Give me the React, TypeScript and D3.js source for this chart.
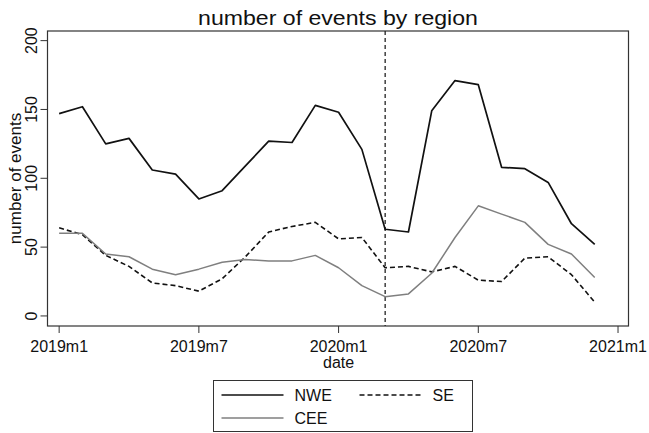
import { useEffect, useRef } from "react";
import * as d3 from "d3";

// monthly counts, 2019m1 .. 2020m12
const nwe = [147, 152, 125, 129, 106, 103, 85, 91, 109, 127, 126, 153, 148, 121, 63, 61, 149, 171, 168, 108, 107, 97, 67, 52];
const se = [64, 59, 44, 36, 24, 22, 18, 27, 43, 61, 65, 68, 56, 57, 35, 36, 32, 36, 26, 25, 42, 43, 30, 10];
const cee = [60, 60, 45, 43, 34, 30, 34, 39, 41, 40, 40, 44, 35, 22, 14, 16, 31, 57, 80, 74, 68, 52, 45, 28];

const xTickMonths = [0, 6, 12, 18, 24];
const xTickLabels = ["2019m1", "2019m7", "2020m1", "2020m7", "2021m1"];
const yTicks = [0, 50, 100, 150, 200];
const eventMonth = 14; // 2020m3

const WIDTH = 649;
const HEIGHT = 433;
const PLOT = { left: 47.5, right: 628.5, top: 31, bottom: 326 };
const FONT = "'Liberation Sans', Arial, Helvetica, sans-serif";
const AXIS = "#333";

document.body.style.margin = "0";

export default function App() {
  const svgRef = useRef<SVGSVGElement>(null);

  useEffect(() => {
    if (!svgRef.current) return;
    const svg = d3.select(svgRef.current);
    svg.selectAll("*").remove();

    const x = d3.scaleLinear().domain([-0.5, 24.45]).range([PLOT.left, PLOT.right]);
    const y = d3.scaleLinear().domain([-7.3, 207]).range([PLOT.bottom, PLOT.top]);

    svg.append("rect").attr("width", WIDTH).attr("height", HEIGHT).attr("fill", "#fff");

    // title
    svg
      .append("text")
      .attr("transform", `translate(${(PLOT.left + PLOT.right) / 2},25) scale(1.1,1)`)
      .attr("text-anchor", "middle")
      .attr("font-family", FONT)
      .attr("font-size", 21)
      .attr("fill", "#111")
      .text("number of events by region");

    // y axis
    const yAxis = svg.append("g");
    yAxis
      .selectAll("line")
      .data(yTicks)
      .join("line")
      .attr("x1", PLOT.left - 7)
      .attr("x2", PLOT.left)
      .attr("y1", (d) => y(d))
      .attr("y2", (d) => y(d))
      .attr("stroke", AXIS)
      .attr("stroke-width", 1);
    yAxis
      .selectAll("text")
      .data(yTicks)
      .join("text")
      .attr("transform", (d) => `translate(${PLOT.left - 11},${y(d)}) rotate(-90)`)
      .attr("text-anchor", "middle")
      .attr("font-family", FONT)
      .attr("font-size", 16)
      .attr("fill", "#111")
      .text((d) => d);
    svg
      .append("text")
      .attr("transform", `translate(21,${(PLOT.top + PLOT.bottom) / 2}) rotate(-90)`)
      .attr("text-anchor", "middle")
      .attr("font-family", FONT)
      .attr("font-size", 17)
      .attr("fill", "#111")
      .text("number of events");

    // x axis
    const xAxis = svg.append("g");
    xAxis
      .selectAll("line")
      .data(xTickMonths)
      .join("line")
      .attr("x1", (d) => x(d))
      .attr("x2", (d) => x(d))
      .attr("y1", PLOT.bottom)
      .attr("y2", PLOT.bottom + 7)
      .attr("stroke", AXIS)
      .attr("stroke-width", 1);
    xAxis
      .selectAll("text")
      .data(xTickMonths)
      .join("text")
      .attr("transform", (d) => `translate(${x(d)},352)`)
      .attr("text-anchor", "middle")
      .attr("font-family", FONT)
      .attr("font-size", 16)
      .attr("fill", "#111")
      .text((_, i) => xTickLabels[i]);
    svg
      .append("text")
      .attr("transform", `translate(${x(12)},368)`)
      .attr("text-anchor", "middle")
      .attr("font-family", FONT)
      .attr("font-size", 16)
      .attr("fill", "#111")
      .text("date");

    // plot region box
    svg
      .append("rect")
      .attr("x", PLOT.left)
      .attr("y", PLOT.top)
      .attr("width", PLOT.right - PLOT.left)
      .attr("height", PLOT.bottom - PLOT.top)
      .attr("fill", "none")
      .attr("stroke", AXIS)
      .attr("stroke-width", 1.2);

    // event marker
    svg
      .append("line")
      .attr("x1", x(eventMonth))
      .attr("x2", x(eventMonth))
      .attr("y1", PLOT.top)
      .attr("y2", PLOT.bottom)
      .attr("stroke", "#222")
      .attr("stroke-width", 1.3)
      .attr("stroke-dasharray", "4,3");

    const line = d3
      .line<number>()
      .x((_, i) => x(i))
      .y((d) => y(d));

    const series = [
      { name: "SE", values: se, color: "#111", width: 1.6, dash: "5,3" },
      { name: "CEE", values: cee, color: "#7f7f7f", width: 1.5, dash: null },
      { name: "NWE", values: nwe, color: "#111", width: 1.7, dash: null },
    ];

    series.forEach((s) => {
      svg
        .append("path")
        .datum(s.values)
        .attr("d", line)
        .attr("fill", "none")
        .attr("stroke", s.color)
        .attr("stroke-width", s.width)
        .attr("stroke-linejoin", "round")
        .attr("stroke-dasharray", s.dash);
    });

    // legend
    const lg = svg.append("g");
    lg.append("rect")
      .attr("x", 213.5)
      .attr("y", 380.5)
      .attr("width", 259)
      .attr("height", 51)
      .attr("fill", "#fff")
      .attr("stroke", AXIS)
      .attr("stroke-width", 1);

    const entries = [
      { name: "NWE", col: 0, row: 0, s: series[2] },
      { name: "SE", col: 1, row: 0, s: series[0] },
      { name: "CEE", col: 0, row: 1, s: series[1] },
    ];
    entries.forEach((e) => {
      const lx = 221.5 + e.col * 138;
      const ly = 395 + e.row * 23;
      lg.append("line")
        .attr("x1", lx)
        .attr("x2", lx + 62)
        .attr("y1", ly)
        .attr("y2", ly)
        .attr("stroke", e.s.color)
        .attr("stroke-width", e.s.width)
        .attr("stroke-dasharray", e.s.dash);
      lg.append("text")
        .attr("transform", `translate(${lx + 73},${ly + 6})`)
        .attr("font-family", FONT)
        .attr("font-size", 16)
        .attr("fill", "#111")
        .text(e.name);
    });
  }, []);

  return <svg ref={svgRef} width={WIDTH} height={HEIGHT} style={{ display: "block" }} />;
}
